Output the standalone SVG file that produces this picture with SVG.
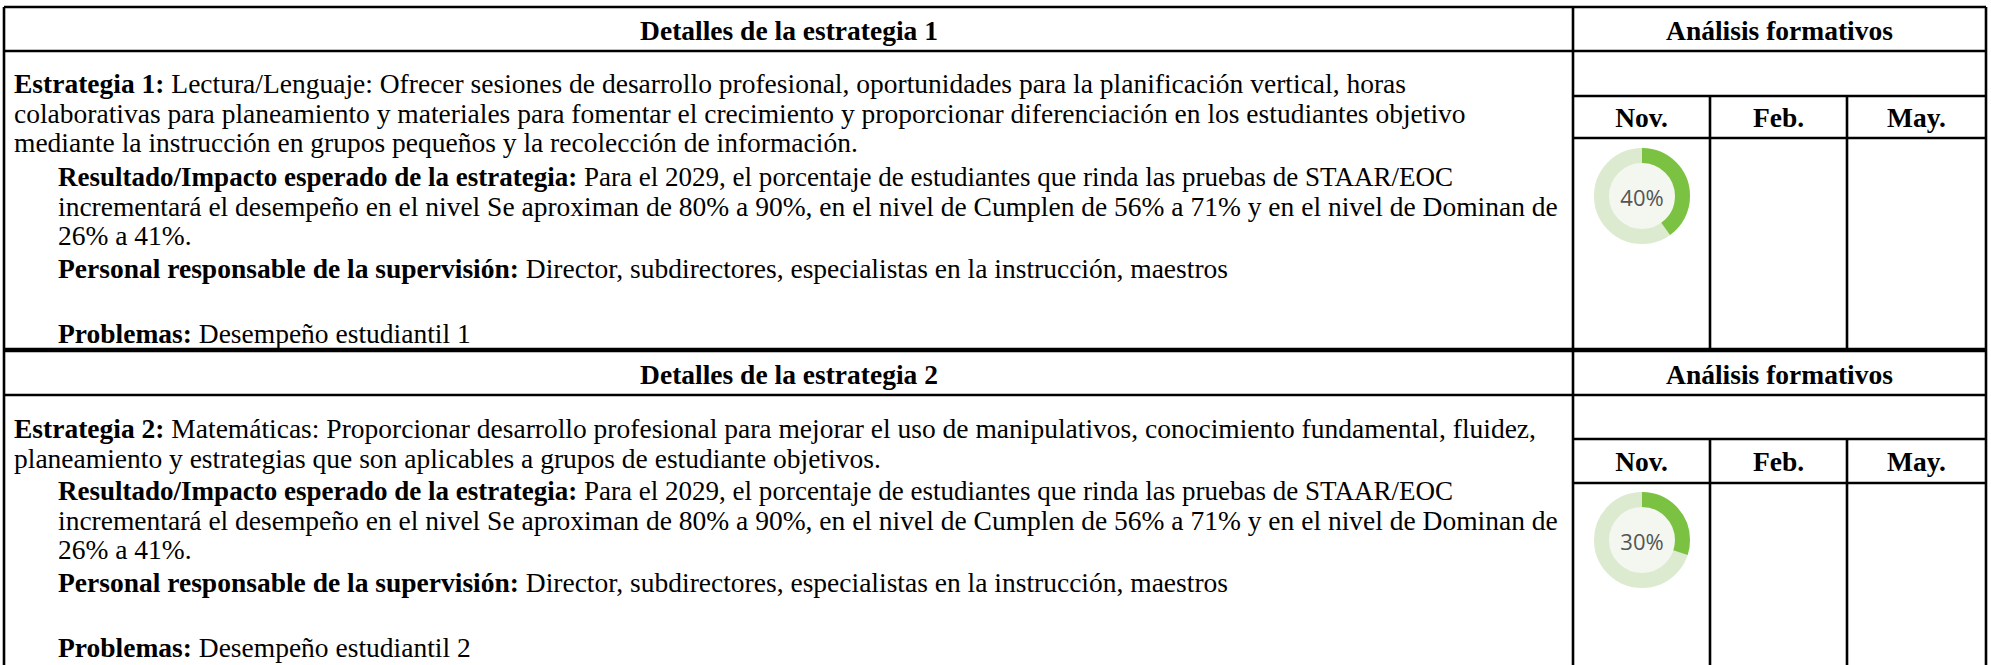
<svg xmlns="http://www.w3.org/2000/svg" width="1991" height="665" viewBox="0 0 1991 665">
<style>
.t{font-family:"Liberation Serif","Times New Roman",serif;font-size:27.5px;fill:#000}
.b{font-weight:bold}
.h{font-family:"Liberation Serif","Times New Roman",serif;font-size:27.5px;font-weight:bold;text-anchor:middle;fill:#000}
.ln{stroke:#000;stroke-width:2.6;fill:none}
.thick{stroke-width:4.4}
.track{fill:none;stroke:#dcebd0;stroke-width:15}
.prog{fill:none;stroke:#7cc242;stroke-width:15}
.inner{fill:#f3f7ef}
.pct{font-family:"Open Sans","Liberation Sans",sans-serif;font-size:22px;fill:#555;text-anchor:middle}
</style>
<rect width="1991" height="665" fill="#fff"/>
<g id="connectors"></g>
<g id="table-lines">
<path class="ln" d="M4 7H1986M4 7V665M1986 7V665M1573 7V665M4 51H1986M1573 96H1986M1573 138H1986M1710 96V350M1847 96V350M4 395H1986M1573 439H1986M1573 483H1986M1710 439V665M1847 439V665"/>
<path class="ln thick" d="M4 350H1986"/>
</g>
<g id="header-1">
<text class="h" x="789" y="40">Detalles de la estrategia 1</text>
<text class="h" x="1779.5" y="40">Análisis formativos</text>
</g>
<g id="strategy-1">
<text class="t" x="14" y="93"><tspan class="b">Estrategia 1:</tspan> Lectura/Lenguaje: Ofrecer sesiones de desarrollo profesional, oportunidades para la planificación vertical, horas</text>
<text class="t" x="14" y="122.5">colaborativas para planeamiento y materiales para fomentar el crecimiento y proporcionar diferenciación en los estudiantes objetivo</text>
<text class="t" x="14" y="152">mediante la instrucción en grupos pequeños y la recolección de información.</text>
<text class="t" x="58" y="186" textLength="1395" lengthAdjust="spacingAndGlyphs"><tspan class="b">Resultado/Impacto esperado de la estrategia:</tspan> Para el 2029, el porcentaje de estudiantes que rinda las pruebas de STAAR/EOC</text>
<text class="t" x="58" y="215.5">incrementará el desempeño en el nivel Se aproximan de 80% a 90%, en el nivel de Cumplen de 56% a 71% y en el nivel de Dominan de</text>
<text class="t" x="58" y="245">26% a 41%.</text>
<text class="t" x="58" y="278"><tspan class="b">Personal responsable de la supervisión:</tspan> Director, subdirectores, especialistas en la instrucción, maestros</text>
<text class="t" x="58" y="343"><tspan class="b">Problemas:</tspan> Desempeño estudiantil 1</text>
</g>
<g id="analysis-1">
<text class="h" x="1641.5" y="127">Nov.</text>
<text class="h" x="1778.5" y="127">Feb.</text>
<text class="h" x="1916.5" y="127">May.</text>
<g id="donut-1">
<circle class="inner" cx="1642" cy="196" r="34"/>
<circle class="track" cx="1642" cy="196" r="40.5"/>
<circle class="prog" cx="1642" cy="196" r="40.5" stroke-dasharray="101.79 254.47" transform="rotate(-90 1642 196)"/>
<text class="pct" x="1642" y="206">40%</text>
</g>
</g>
<g id="header-2">
<text class="h" x="789" y="384">Detalles de la estrategia 2</text>
<text class="h" x="1779.5" y="384">Análisis formativos</text>
</g>
<g id="strategy-2">
<text class="t" x="14" y="438"><tspan class="b">Estrategia 2:</tspan> Matemáticas: Proporcionar desarrollo profesional para mejorar el uso de manipulativos, conocimiento fundamental, fluidez,</text>
<text class="t" x="14" y="467.5">planeamiento y estrategias que son aplicables a grupos de estudiante objetivos.</text>
<text class="t" x="58" y="500" textLength="1395" lengthAdjust="spacingAndGlyphs"><tspan class="b">Resultado/Impacto esperado de la estrategia:</tspan> Para el 2029, el porcentaje de estudiantes que rinda las pruebas de STAAR/EOC</text>
<text class="t" x="58" y="529.5">incrementará el desempeño en el nivel Se aproximan de 80% a 90%, en el nivel de Cumplen de 56% a 71% y en el nivel de Dominan de</text>
<text class="t" x="58" y="559">26% a 41%.</text>
<text class="t" x="58" y="592"><tspan class="b">Personal responsable de la supervisión:</tspan> Director, subdirectores, especialistas en la instrucción, maestros</text>
<text class="t" x="58" y="657"><tspan class="b">Problemas:</tspan> Desempeño estudiantil 2</text>
</g>
<g id="analysis-2">
<text class="h" x="1641.5" y="471">Nov.</text>
<text class="h" x="1778.5" y="471">Feb.</text>
<text class="h" x="1916.5" y="471">May.</text>
<g id="donut-2">
<circle class="inner" cx="1642" cy="540" r="34"/>
<circle class="track" cx="1642" cy="540" r="40.5"/>
<circle class="prog" cx="1642" cy="540" r="40.5" stroke-dasharray="76.34 254.47" transform="rotate(-90 1642 540)"/>
<text class="pct" x="1642" y="550">30%</text>
</g>
</g>
</svg>
